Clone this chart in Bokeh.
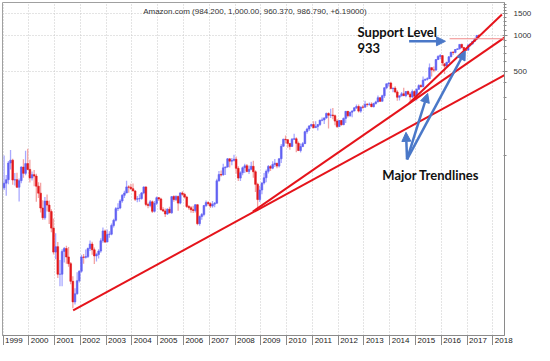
from bokeh.plotting import figure
from bokeh.models import (Range1d, FixedTicker, NumeralTickFormatter, ColumnDataSource,
                          Arrow, NormalHead, CustomJSTickFormatter)
from bokeh.core.properties import value
from bokeh.embed import file_html
from bokeh.resources import INLINE

# ---------------- data (monthly bars, Jan 1999 .. Jun 2017) ----------------
start_year = 1999
years = list(range(1999, 2019))

open_ = [
    53.5, 58.5, 62.5, 86.1, 90.8, 62.1, 62.6, 54.1, 61.4, 79.6, 70.6, 85.1,
    76.1, 64.6, 68.9, 67.0, 55.2, 48.3, 36.3, 30.1, 41.5, 38.4, 34.0, 24.7,
    15.6, 17.3, 10.2, 10.2, 15.8, 16.7, 14.2, 12.5, 8.9, 6.0, 7.0, 9.0,
    10.8, 14.2, 14.1, 14.3, 16.7, 18.2, 16.3, 14.5, 14.9, 15.9, 19.4, 23.4,
    18.9, 21.9, 22.0, 26.0, 28.7, 35.9, 36.3, 41.6, 46.3, 48.4, 54.4, 54.2,
    52.6, 50.4, 43.0, 43.3, 43.6, 48.5, 54.4, 38.9, 38.1, 40.9, 34.1, 39.7,
    44.3, 43.2, 35.2, 34.3, 32.4, 35.5, 33.1, 45.2, 42.7, 45.3, 39.9, 48.5,
    47.2, 44.8, 37.4, 36.5, 35.2, 34.6, 38.7, 26.9, 30.8, 32.1, 38.1, 40.3,
    39.5, 37.7, 39.1, 39.8, 61.3, 69.1, 68.4, 78.5, 79.9, 93.2, 89.2, 90.6,
    92.6, 77.7, 64.5, 71.3, 78.6, 81.6, 73.3, 76.3, 80.8, 72.8, 57.2, 42.7,
    51.3, 58.8, 64.8, 73.4, 80.5, 78.0, 83.7, 85.8, 81.2, 93.4, 118.8, 135.9,
    134.5, 125.4, 118.4, 135.8, 137.1, 125.5, 109.3, 117.9, 124.8, 157.1, 165.2, 175.4,
    180.0, 169.6, 173.3, 180.1, 195.8, 196.7, 204.5, 222.5, 215.2, 216.2, 213.5, 192.3,
    173.1, 194.4, 179.7, 202.5, 231.9, 212.9, 228.4, 233.3, 248.3, 254.3, 232.9, 252.1,
    250.9, 265.5, 264.3, 266.5, 253.8, 269.2, 277.7, 301.2, 281.0, 312.6, 364.0, 393.6,
    398.8, 358.7, 362.1, 336.4, 304.1, 312.6, 324.8, 313.0, 339.0, 322.4, 305.5, 338.6,
    310.4, 354.5, 380.2, 372.1, 421.8, 429.2, 434.1, 536.2, 512.9, 511.9, 625.9, 664.8,
    675.9, 578.0, 552.5, 593.6, 659.6, 722.8, 715.6, 758.8, 769.2, 837.3, 789.8, 750.6,
    749.9, 823.5, 845.0, 886.5, 925.0, 994.6,
]
close = [
    58.5, 62.5, 86.1, 90.8, 62.1, 62.6, 54.1, 61.4, 79.6, 70.6, 85.1, 76.1,
    64.6, 68.9, 67.0, 55.2, 48.3, 36.3, 30.1, 41.5, 38.4, 34.0, 24.7, 15.6,
    17.3, 10.2, 10.2, 15.8, 16.7, 14.2, 12.5, 8.9, 6.0, 7.0, 9.0, 10.8,
    14.2, 14.1, 14.3, 16.7, 18.2, 16.3, 14.5, 14.9, 15.9, 19.4, 23.4, 18.9,
    21.9, 22.0, 26.0, 28.7, 35.9, 36.3, 41.6, 46.3, 48.4, 54.4, 54.2, 52.6,
    50.4, 43.0, 43.3, 43.6, 48.5, 54.4, 38.9, 38.1, 40.9, 34.1, 39.7, 44.3,
    43.2, 35.2, 34.3, 32.4, 35.5, 33.1, 45.2, 42.7, 45.3, 39.9, 48.5, 47.2,
    44.8, 37.4, 36.5, 35.2, 34.6, 38.7, 26.9, 30.8, 32.1, 38.1, 40.3, 39.5,
    37.7, 39.1, 39.8, 61.3, 69.1, 68.4, 78.5, 79.9, 93.2, 89.2, 90.6, 92.6,
    77.7, 64.5, 71.3, 78.6, 81.6, 73.3, 76.3, 80.8, 72.8, 57.2, 42.7, 51.3,
    58.8, 64.8, 73.4, 80.5, 78.0, 83.7, 85.8, 81.2, 93.4, 118.8, 135.9, 134.5,
    125.4, 118.4, 135.8, 137.1, 125.5, 109.3, 117.9, 124.8, 157.1, 165.2, 175.4, 180.0,
    169.6, 173.3, 180.1, 195.8, 196.7, 204.5, 222.5, 215.2, 216.2, 213.5, 192.3, 173.1,
    194.4, 179.7, 202.5, 231.9, 212.9, 228.4, 233.3, 248.3, 254.3, 232.9, 252.1, 250.9,
    265.5, 264.3, 266.5, 253.8, 269.2, 277.7, 301.2, 281.0, 312.6, 364.0, 393.6, 398.8,
    358.7, 362.1, 336.4, 304.1, 312.6, 324.8, 313.0, 339.0, 322.4, 305.5, 338.6, 310.4,
    354.5, 380.2, 372.1, 421.8, 429.2, 434.1, 536.2, 512.9, 511.9, 625.9, 664.8, 675.9,
    587.0, 552.5, 593.6, 659.6, 722.8, 715.6, 758.8, 769.2, 837.3, 789.8, 750.6, 749.9,
    823.5, 845.0, 886.5, 925.0, 994.6, 986.8,
]
high = [
    99.6, 68.5, 89.4, 110.6, 93.5, 71.0, 71.5, 64.0, 80.9, 92.4, 109.0, 113.0,
    91.5, 73.0, 75.3, 70.0, 59.5, 59.1, 42.1, 44.8, 47.0, 42.0, 35.5, 29.7,
    22.4, 18.9, 13.4, 16.5, 17.2, 17.6, 17.2, 12.9, 9.8, 7.8, 10.6, 11.0,
    14.8, 15.0, 16.4, 17.0, 19.5, 19.0, 17.0, 15.4, 16.5, 20.3, 25.0, 24.1,
    24.0, 23.3, 27.0, 29.6, 37.0, 39.8, 43.0, 47.6, 50.6, 61.2, 56.3, 57.8,
    58.0, 51.0, 45.7, 47.3, 49.3, 54.9, 54.8, 40.2, 42.4, 42.0, 41.5, 45.2,
    44.9, 44.2, 36.9, 36.0, 36.2, 37.2, 45.4, 46.4, 46.5, 46.1, 49.1, 50.0,
    48.6, 46.0, 38.5, 37.8, 38.0, 39.0, 38.9, 31.5, 33.0, 38.5, 42.0, 41.3,
    40.5, 41.5, 40.7, 63.8, 73.8, 74.7, 84.9, 80.0, 94.8, 93.8, 95.0, 101.1,
    97.4, 81.0, 73.6, 80.5, 84.9, 84.5, 81.9, 88.1, 90.0, 75.0, 59.0, 55.7,
    59.2, 71.0, 76.0, 82.8, 83.0, 88.9, 93.0, 86.2, 94.2, 124.0, 137.4, 145.9,
    136.6, 126.0, 138.8, 151.1, 141.0, 129.9, 125.0, 128.6, 160.0, 169.2, 177.3, 182.5,
    191.6, 191.4, 181.2, 197.8, 206.4, 206.0, 227.2, 227.8, 244.0, 246.7, 218.3, 199.0,
    196.0, 195.9, 206.0, 232.2, 232.4, 229.0, 236.6, 250.0, 264.1, 264.0, 253.6, 262.4,
    284.7, 271.5, 274.8, 276.0, 273.0, 284.0, 313.9, 304.0, 318.9, 368.4, 393.9, 406.0,
    408.1, 365.0, 375.0, 348.0, 313.4, 336.0, 365.0, 341.0, 345.7, 334.6, 352.0, 347.0,
    359.5, 389.4, 389.0, 452.7, 433.0, 446.3, 580.6, 538.4, 549.0, 633.0, 679.3, 696.4,
    675.9, 581.8, 599.3, 669.0, 724.2, 731.5, 766.0, 774.5, 839.0, 847.2, 791.2, 780.0,
    843.8, 860.9, 890.4, 949.6, 1001.2, 1017.0,
]
low = [
    51.2, 45.9, 57.3, 76.0, 56.8, 56.0, 53.5, 41.1, 58.5, 64.8, 68.0, 75.0,
    59.2, 61.6, 55.0, 41.0, 44.0, 33.4, 28.8, 29.0, 34.0, 26.7, 22.8, 14.9,
    13.6, 9.5, 8.1, 8.1, 12.8, 12.5, 11.8, 8.4, 5.3, 5.7, 6.9, 8.7,
    10.5, 12.5, 13.8, 13.9, 15.9, 14.8, 12.4, 13.0, 13.8, 15.4, 18.7, 18.6,
    18.9, 20.5, 21.5, 25.0, 28.0, 34.3, 35.4, 40.2, 44.0, 48.4, 48.6, 51.3,
    50.0, 41.6, 40.6, 41.0, 42.6, 47.4, 37.6, 36.2, 36.9, 33.0, 33.4, 38.5,
    41.5, 34.7, 33.6, 30.6, 31.8, 32.9, 32.5, 41.0, 41.5, 34.4, 39.0, 46.0,
    43.6, 36.3, 35.2, 33.2, 33.0, 33.4, 26.1, 25.8, 29.0, 31.0, 37.0, 37.9,
    36.3, 36.5, 36.9, 39.6, 60.1, 66.5, 67.7, 68.3, 78.5, 78.9, 82.5, 88.6,
    70.0, 61.0, 61.0, 68.0, 71.0, 72.0, 69.6, 75.1, 65.0, 49.3, 34.7, 40.8,
    47.2, 57.0, 59.6, 70.5, 74.0, 76.5, 79.7, 78.0, 79.0, 86.3, 117.6, 125.4,
    115.3, 111.1, 117.2, 133.9, 105.8, 108.2, 105.5, 117.0, 124.0, 150.6, 159.0, 171.0,
    166.9, 169.6, 160.6, 175.0, 191.6, 181.6, 201.5, 166.9, 204.0, 198.9, 178.0, 168.8,
    172.0, 175.9, 178.0, 185.5, 206.4, 208.6, 207.3, 232.0, 242.0, 227.3, 226.0, 243.3,
    250.0, 253.3, 258.0, 250.5, 249.8, 264.2, 276.5, 279.0, 281.0, 299.9, 354.0, 373.8,
    355.0, 334.6, 328.0, 284.4, 285.0, 307.6, 312.0, 304.0, 319.7, 284.0, 299.0, 299.0,
    285.3, 350.0, 367.0, 368.0, 417.0, 418.0, 431.0, 452.1, 491.0, 502.0, 621.1, 628.6,
    556.0, 474.0, 538.6, 585.3, 656.0, 682.1, 708.0, 752.4, 757.5, 775.0, 710.1, 740.5,
    747.7, 803.0, 833.5, 884.5, 927.8, 960.4,
]

# trendlines: (year, price) end points
trend_a_x = [2001.72, 2018.45]
trend_a_y = [5.09, 464.0]
trend_b_x = [2008.69, 2018.46]
trend_b_y = [33.9, 958.0]
trend_c_x = [2014.75, 2018.35]
trend_c_y = [271.0, 1483.0]

support_level = 933
support_x = [2016.32, 2018.45]

title_text = "Amazon.com (984.200, 1,000.00, 960.370, 986.790, +6.19000)"

# ---------------- figure ----------------
p = figure(width=534, height=345,
           x_range=Range1d(1998.98, 2018.45), y_range=Range1d(3.15, 1870),
           y_axis_type="log", y_axis_location="right",
           output_backend="svg", toolbar_location=None,
           min_border=0, min_border_left=2, min_border_top=2)
p.outline_line_color = "#a0a0a0"
p.background_fill_color = "white"

# x axis: year labels in boxes
p.xaxis.ticker = FixedTicker(ticks=[y + 0.42 for y in years], minor_ticks=years)
p.xaxis.formatter = CustomJSTickFormatter(code="return String(Math.floor(tick));")
p.xaxis.major_tick_out = 0
p.xaxis.major_tick_in = 0
p.xaxis.minor_tick_out = 11
p.xaxis.minor_tick_in = 0
p.xaxis.minor_tick_line_color = "#8a8a8a"
p.xaxis.axis_line_color = "#8a8a8a"
p.xaxis.major_label_standoff = -9
p.xaxis.major_label_text_font = "Liberation Sans"
p.xaxis.major_label_text_font_size = "8px"
p.xaxis.major_label_text_color = "#222222"

p.xgrid.ticker = FixedTicker(ticks=years)
p.xgrid.grid_line_color = "#c8c8c8"
p.xgrid.grid_line_dash = "1 2"

# y axis (right, log)
p.yaxis.ticker = FixedTicker(ticks=[500, 1000, 1500],
                             minor_ticks=[100, 200, 300, 400, 600, 700, 800, 900,
                                          1100, 1200, 1300, 1400, 1600, 1700, 1800])
p.yaxis.formatter = NumeralTickFormatter(format="0")
p.yaxis.major_label_text_font = "Liberation Sans"
p.yaxis.major_label_text_font_size = "8px"
p.yaxis.major_label_text_color = "#333333"
p.yaxis.axis_line_color = "#8a8a8a"
p.yaxis.major_tick_line_color = "#8a8a8a"
p.yaxis.minor_tick_line_color = "#8a8a8a"
p.yaxis.major_tick_in = 2
p.yaxis.major_tick_out = 3
p.yaxis.minor_tick_in = 1
p.yaxis.minor_tick_out = 2
p.yaxis.major_label_standoff = 6
p.ygrid.grid_line_color = "#c8c8c8"
p.ygrid.grid_line_dash = "1 2"

# ---------------- candles ----------------
n = len(close)
t = [start_year + (i + 0.5) / 12 for i in range(n)]
up = [c >= o for o, c in zip(open_, close)]
src = ColumnDataSource(dict(
    t=t, h=high, l=low,
    top=[max(o, c) for o, c in zip(open_, close)],
    bot=[min(o, c) for o, c in zip(open_, close)],
    wick=["#a9a9ff" if u else "#f4a3a3" for u in up],
    body=["#6262f2" if u else "#e3191c" for u in up],
))
p.segment(x0="t", y0="l", x1="t", y1="h", line_color="wick", line_width=1.3, source=src)
p.vbar(x="t", width=0.065, top="top", bottom="bot", fill_color="body",
       line_color="body", line_width=0.6, source=src)

# ---------------- trendlines & support ----------------
red = "#e5141b"
p.line(trend_a_x, trend_a_y, line_color=red, line_width=2)
p.line(trend_b_x, trend_b_y, line_color=red, line_width=2)
p.line(trend_c_x, trend_c_y, line_color=red, line_width=2)
p.line(support_x, [support_level, support_level], line_color="#f08a8a", line_width=1)

# ---------------- annotations ----------------
blue = "#4a78c8"
arrows = [
    (2014.75, 889, 2016.16, 889),
    (2014.67, 92.3, 2014.63, 155),
    (2014.67, 92.3, 2015.47, 327),
    (2014.67, 92.3, 2016.93, 739),
]
for xs, ys, xe, ye in arrows:
    p.add_layout(Arrow(end=NormalHead(size=9, fill_color=blue, line_color=blue),
                       x_start=xs, y_start=ys, x_end=xe, y_end=ye,
                       line_color=blue, line_width=2.5))

p.text(x=[2012.75, 2012.75], y=[1071, 781], text=["Support Level", "933"],
       text_font=value("Lato"), text_font_style="bold", text_font_size="13px",
       text_align="left", text_baseline="middle", text_color="#111111")
p.text(x=[2013.71], y=[68.6], text=["Major Trendlines"],
       text_font=value("Lato"), text_font_style="bold", text_font_size="13px",
       text_align="left", text_baseline="middle", text_color="#111111")
p.text(x=[2008.77], y=[1580], text=[title_text],
       text_font=value("Liberation Sans"), text_font_size="8px",
       text_align="center", text_baseline="middle", text_color="#333333")

open("out.html", "w").write(file_html(p, INLINE))
